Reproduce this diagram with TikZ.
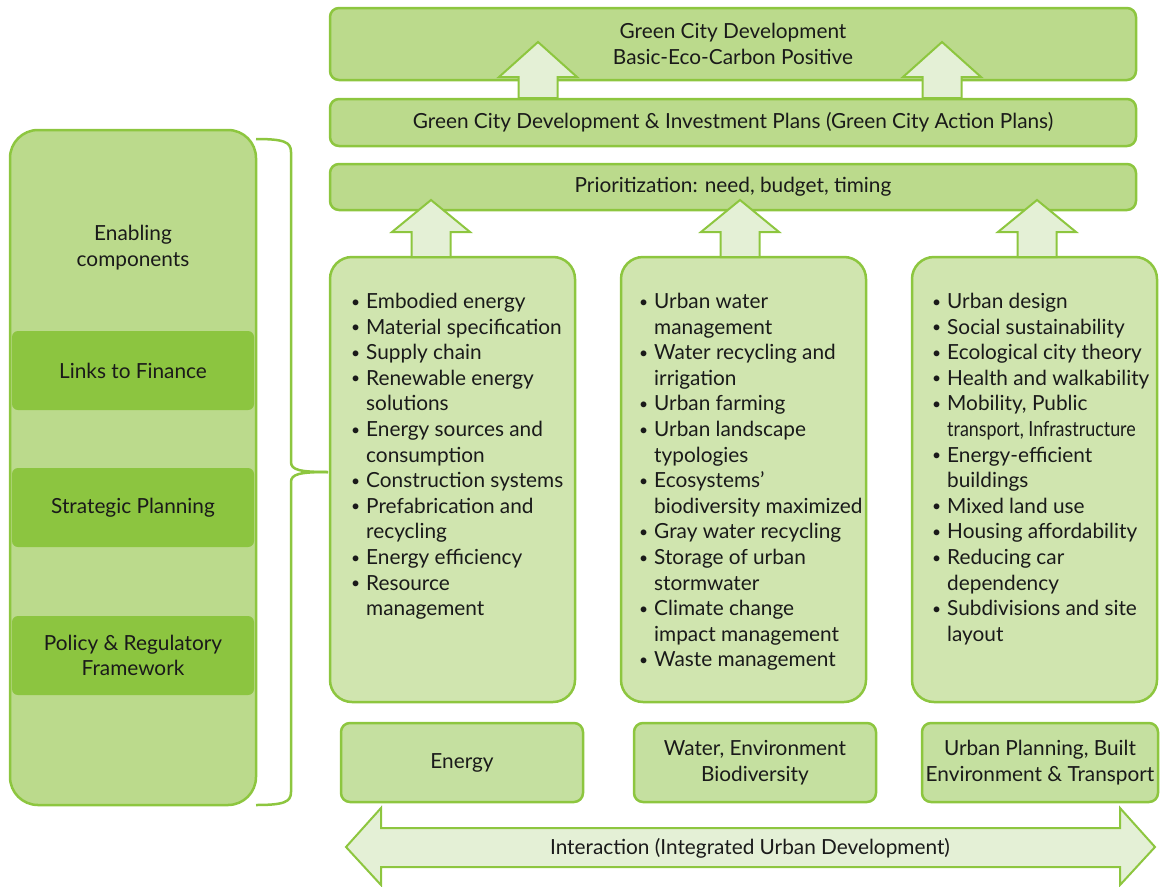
\documentclass[tikz,border=0pt]{standalone}
\usepackage{fontspec}
\usepackage{graphicx}
\setmainfont{Lato}
\definecolor{gborder}{HTML}{8DC63F}
\definecolor{gtop}{HTML}{BBDA8C}
\definecolor{glist}{HTML}{D0E5AF}
\definecolor{gbot}{HTML}{C5E0A0}
\definecolor{gdark}{HTML}{8CC540}
\definecolor{garr}{HTML}{E4F0D6}
\definecolor{txt}{HTML}{1A1A1A}
\newcommand\bi{\makebox[16pt][l]{\hspace{1pt}\raisebox{1.5pt}{\scalebox{0.75}{•}}}}
\newcommand\ci{\hspace*{16pt}}
\newcommand\garrow[4]{%
  \draw[arr] (#1,#2) -- (#1+39,#3) -- (#1+19.5,#3) -- (#1+19.5,#4) -- (#1-19.5,#4) -- (#1-19.5,#3) -- (#1-39,#3) -- cycle;}
\tikzset{
  base text/.style={text=txt, font=\fontsize{20.8}{25.6}\selectfont},
  topbox/.style={base text, draw=gborder, fill=gtop, line width=2.5pt, rounded corners=9pt, align=center, inner sep=0pt},
  listbox/.style={draw=gborder, fill=glist, line width=2.5pt, rounded corners=22pt, inner sep=0pt},
  botbox/.style={base text, draw=gborder, fill=gbot, line width=2.5pt, rounded corners=9pt, align=center, inner sep=0pt},
  panel/.style={draw=gborder, fill=gtop, line width=2.5pt, rounded corners=28pt, inner sep=0pt},
  innerbox/.style={base text, fill=gdark, rounded corners=6pt, align=center, inner sep=0pt},
  plain/.style={base text, align=center, inner sep=0pt},
  listtext/.style={base text, align=left, inner sep=0pt, anchor=north west},
  arr/.style={draw=gborder, fill=garr, line width=2pt, line join=miter},
  bracestyle/.style={draw=gborder, line width=2.5pt}
}
\begin{document}
\begin{tikzpicture}[x=1pt,y=-1pt]
\useasboundingbox (0,0) rectangle (1161,886);
% left panel
\node[panel, minimum width=246, minimum height=675] (panel) at (133,467.5) {};
\node[plain] (enab) at (133,247.5) {Enabling\\components};
\node[innerbox, minimum width=242, minimum height=79] (fin) at (133,370.5) {Links to Finance};
\node[innerbox, minimum width=242, minimum height=79] (strat) at (133,507.5) {Strategic Planning};
\node[innerbox, minimum width=242, minimum height=79] (pol) at (133,655.5) {Policy \& Regulatory\\Framework};
% brace
\coordinate (btip) at (328,472);
\draw[bracestyle] (256,139) .. controls (284,139) and (291,142) .. (291,152) -- (291,462)
  .. controls (291,470) and (300,472) .. (btip);
\draw[bracestyle] (256,805) .. controls (284,805) and (291,802) .. (291,792) -- (291,482)
  .. controls (291,474) and (300,472) .. (btip);
% top boxes
\node[topbox, minimum width=806, minimum height=72] (goal) at (733,44) {Green City Development\\Basic-Eco-Carbon Positive};
\node[topbox, minimum width=806, minimum height=47] (plans) at (733,122.5) {Green City Development \& Investment Plans (Green City Action Plans)};
\node[topbox, minimum width=806, minimum height=46] (prio) at (733,187) {Prioritization: need, budget, timing};
% list boxes
\node[listbox, minimum width=245, minimum height=445] (l1) at (452.5,479.5) {};
\node[listbox, minimum width=245, minimum height=445] (l2) at (743.5,479.5) {};
\node[listbox, minimum width=245, minimum height=445] (l3) at (1034.5,479.5) {};
% arrows
\garrow{538}{42}{77}{98}
\garrow{942}{42}{77}{98}
\garrow{431}{200}{232}{257}
\garrow{740}{200}{232}{257}
\garrow{1037}{200}{232}{257}
% list texts
\node[listtext] (t1) at (350,293) {\bi Embodied energy\\ \bi Material specification\\ \bi Supply chain\\ \bi Renewable energy\\ \ci solutions\\ \bi Energy sources and\\ \ci consumption\\ \bi Construction systems\\ \bi Prefabrication and\\ \ci recycling\\ \bi Energy efficiency\\ \bi Resource\\ \ci management};
\node[listtext] (t2) at (638,293) {\bi Urban water\\ \ci management\\ \bi Water recycling and\\ \ci irrigation\\ \bi Urban farming\\ \bi Urban landscape\\ \ci typologies\\ \bi Ecosystems’\\ \ci biodiversity maximized\\ \bi Gray water recycling\\ \bi Storage of urban\\ \ci stormwater\\ \bi Climate change\\ \ci impact management\\ \bi Waste management};
\node[listtext] (t3) at (931,293) {\bi Urban design\\ \bi Social sustainability\\ \bi Ecological city theory\\ \bi Health and walkability\\ \bi Mobility, Public\\ \ci \scalebox{0.86}[1]{transport, Infrastructure}\\ \bi Energy-efficient\\ \ci buildings\\ \bi Mixed land use\\ \bi Housing affordability\\ \bi Reducing car\\ \ci dependency\\ \bi Subdivisions and site\\ \ci layout};
% bottom boxes
\node[botbox, minimum width=242, minimum height=79] (energy) at (462,762.5) {Energy};
\node[botbox, minimum width=242, minimum height=79] (water) at (755,762.5) {Water, Environment\\Biodiversity};
\node[botbox, minimum width=236, minimum height=79] (urban) at (1040,762.5) {Urban Planning, Built\\Environment \& Transport};
% interaction arrow
\draw[arr] (346,847) -- (381,808) -- (381,828) -- (1120,828) -- (1120,808) -- (1155,847) -- (1120,885) -- (1120,867) -- (381,867) -- (381,885) -- cycle;
\node[plain] (inter) at (750,848) {Interaction (Integrated Urban Development)};
\end{tikzpicture}
\end{document}
